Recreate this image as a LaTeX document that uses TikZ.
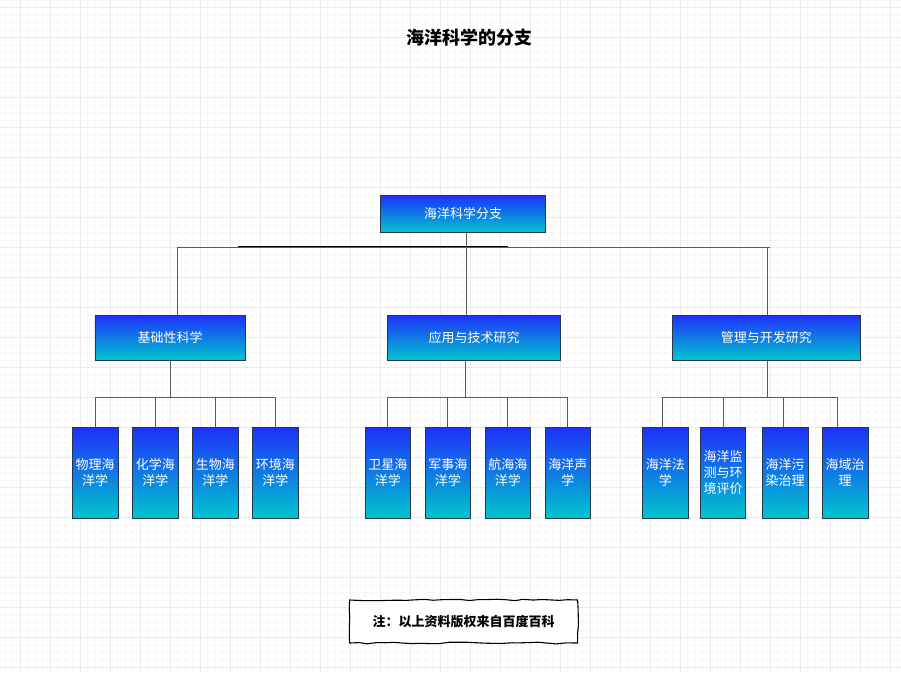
\documentclass[tikz,border=0pt]{standalone}
\usepackage{fontspec}
\setmainfont{Noto Sans CJK SC}
\usetikzlibrary{decorations.pathmorphing}
\definecolor{topblue}{RGB}{30,48,250}
\definecolor{botcyan}{RGB}{0,198,205}
\definecolor{boxedge}{RGB}{40,55,70}
\definecolor{conncol}{RGB}{90,90,90}
\definecolor{gridmaj}{RGB}{234,234,234}
\definecolor{gridmin}{RGB}{247,247,247}
\tikzset{
  gbox/.style={draw=boxedge, line width=0.9pt, top color=topblue, bottom color=botcyan,
    text=white, inner sep=0pt, align=center,
    font=\fontsize{13}{16}\selectfont},
  midbox/.style={gbox, minimum height=45pt},
  leafbox/.style={gbox, minimum width=45.5pt, minimum height=90.7pt},
  conn/.style={draw=conncol, line width=0.9pt},
  note/.style={draw=black, line width=1.1pt, fill=white, inner sep=0pt,
    minimum width=228pt, minimum height=43pt,
    decorate, decoration={random steps, segment length=9pt, amplitude=0.9pt},
    font=\bfseries\fontsize{13}{16}\selectfont},
}
\begin{document}
\begin{tikzpicture}[x=1pt,y=-1pt]
\useasboundingbox (0,0) rectangle (901,672);
\fill[white] (0,0) rectangle (901,672);
% grid
\foreach \i in {0,...,119} {\draw[gridmin, line width=0.6pt] ({5+7.5*\i},0) -- ({5+7.5*\i},672);}
\foreach \i in {0,...,89} {\draw[gridmin, line width=0.6pt] (0,{7.5*\i}) -- (901,{7.5*\i});}
\foreach \i in {0,...,29} {\draw[gridmaj, line width=0.7pt] ({20+30*\i},0) -- ({20+30*\i},672);}
\foreach \i in {0,...,22} {\draw[gridmaj, line width=0.7pt] (0,{7.5+30*\i}) -- (901,{7.5+30*\i});}

% title
\node[font=\bfseries\fontsize{18}{20}\selectfont] (title) at (469,38) {海洋科学的分支};

% root
\node[gbox, minimum width=165.5pt, minimum height=37.5pt] (root) at (463,213.8) {海洋科学分支};

% mid level
\node[midbox, minimum width=150.5pt] (m1) at (170.2,337.6) {基础性科学};
\node[midbox, minimum width=173.5pt] (m2) at (474,337.6) {应用与技术研究};
\node[midbox, minimum width=188pt] (m3) at (766.3,337.6) {管理与开发研究};

% leaves
\node[leafbox] (a1) at (95.2,472.7) {物理海\\洋学};
\node[leafbox] (a2) at (155.3,472.7) {化学海\\洋学};
\node[leafbox] (a3) at (215.3,472.7) {生物海\\洋学};
\node[leafbox] (a4) at (275.3,472.7) {环境海\\洋学};

\node[leafbox] (b1) at (387.8,472.7) {卫星海\\洋学};
\node[leafbox] (b2) at (447.8,472.7) {军事海\\洋学};
\node[leafbox] (b3) at (507.8,472.7) {航海海\\洋学};
\node[leafbox] (b4) at (567.8,472.7) {海洋声\\学};

\node[leafbox] (c1) at (665.3,472.7) {海洋法\\学};
\node[leafbox] (c2) at (723,472.7) {海洋监\\测与环\\境评价};
\node[leafbox] (c3) at (785.2,472.7) {海洋污\\染治理};
\node[leafbox] (c4) at (845.2,472.7) {海域治\\理};

% top bus
\coordinate (busL) at (177.5,247);
\coordinate (busR) at (770,247);
\draw[conn] (busL) -- (busR);
\draw[black, line width=1.6pt] (238,246.6) -- (508,246.6);
\draw[conn] ([xshift=3pt]root.south) -- ([xshift=3pt]root.south |- busL);
\draw[conn] (busL) -- (busL |- m1.north);
\draw[conn] ([xshift=-8pt]m2.north |- busL) -- ([xshift=-8pt]m2.north);
\draw[conn] ([xshift=1.4pt]m3.north |- busL) -- ([xshift=1.4pt]m3.north);

% group 1
\coordinate (g1) at (170.2,397.3);
\draw[conn] (m1.south) -- (g1);
\draw[conn] (a1.north) |- (a4.north |- g1) -- (a4.north);
\draw[conn] (a2.north) -- (a2.north |- g1);
\draw[conn] (a3.north) -- (a3.north |- g1);

% group 2
\coordinate (g2) at (465,397.3);
\draw[conn] ([xshift=-9pt]m2.south) -- (g2);
\draw[conn] (b1.north) |- (b4.north |- g2) -- (b4.north);
\draw[conn] (b2.north) -- (b2.north |- g2);
\draw[conn] (b3.north) -- (b3.north |- g2);

% group 3
\coordinate (g3) at (767.7,397.3);
\draw[conn] ([xshift=1.4pt]m3.south) -- (g3);
\draw[conn] ([xshift=-3pt]c1.north) |- ([xshift=-7.5pt]c4.north |- g3) -- ([xshift=-7.5pt]c4.north);
\draw[conn] (c2.north) -- (c2.north |- g3);
\draw[conn] ([xshift=-2pt]c3.north) -- ([xshift=-2pt]c3.north |- g3);

% note
\node[note] (notebox) at (463.6,621.5) {};
\node[font=\bfseries\fontsize{13}{16}\selectfont] (notetext) at (notebox.center) {注：以上资料版权来自百度百科};
\end{tikzpicture}
\end{document}
